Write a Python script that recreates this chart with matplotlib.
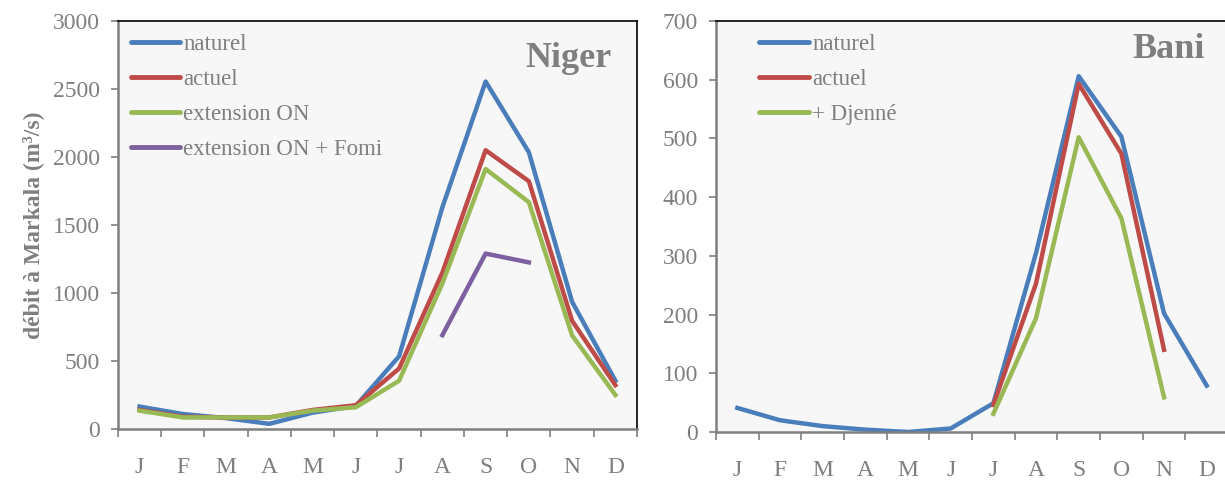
import numpy as np
import matplotlib.pyplot as plt

plt.rcParams['font.family'] = ['Liberation Serif', 'DejaVu Serif']

months = ['J', 'F', 'M', 'A', 'M', 'J', 'J', 'A', 'S', 'O', 'N', 'D']

# Niger a Markala
niger_naturel = [165, 110, 80, 38, 120, 170, 535, 1630, 2555, 2035, 935, 355]
niger_actuel = [140, 90, 85, 85, 140, 175, 445, 1150, 2050, 1822, 795, 322]
niger_ext_on = [135, 85, 85, 85, 135, 160, 355, 1070, 1912, 1668, 688, 250]
niger_fomi = [None] * 7 + [690, 1290, 1225] + [None] * 2

# Bani
bani_naturel = [41, 20, 10, 4, 0, 6, 49, 305, 606, 503, 202, 79]
bani_actuel = [None] * 6 + [46, 253, 593, 474, 140, None]
bani_djenne = [None] * 6 + [31, 194, 502, 364, 59, None]

blue = '#4A7EBB'
red = '#BE4B48'
green = '#98B954'
purple = '#7D60A0'
grey = '#7F7F7F'


def arr(v):
    return np.array([np.nan if x is None else x for x in v], dtype=float)


def style_ax(ax, ymax, ystep):
    ax.set_facecolor('#F7F7F7')
    ax.set_xlim(-0.5, 11.5)
    ax.set_ylim(0, ymax)
    ax.set_yticks(np.arange(0, ymax + 1, ystep))
    ax.set_xticks(np.arange(-0.5, 12, 1))
    ax.set_xticklabels([])
    ax.set_xticks(np.arange(12), minor=True)
    ax.set_xticklabels(months, minor=True)
    ax.tick_params(axis='x', which='major', length=6, width=1.2, color=grey, direction='out')
    ax.tick_params(axis='x', which='minor', length=0, pad=20, labelsize=17, labelcolor=grey)
    ax.tick_params(axis='y', length=5, width=1.2, color=grey, pad=8, labelsize=17, labelcolor=grey)
    for s in ['left', 'bottom']:
        ax.spines[s].set_color(grey)
        ax.spines[s].set_linewidth(1.8)
    for s in ['top', 'right']:
        ax.spines[s].set_color('black')
        ax.spines[s].set_linewidth(1.2)


def style_legend(leg):
    for t in leg.get_texts():
        t.set_color(grey)
    for h in leg.legend_handles:
        h.set_linewidth(3.5)
        h.set_solid_capstyle('round')


fig = plt.figure(figsize=(12.25, 4.83), dpi=100)
ax1 = fig.add_axes([0.0963, 0.1118, 0.4237, 0.8447])
ax2 = fig.add_axes([0.5845, 0.1056, 0.4180, 0.8509])

x = np.arange(12)
lw = 3.2
leg_kw = dict(loc='upper left', frameon=False, fontsize=16.5, handlelength=2.15,
              handletextpad=0.15, labelspacing=0.62, borderaxespad=0.15)

ax1.plot(x, niger_naturel, color=blue, lw=lw, label='naturel')
ax1.plot(x, niger_actuel, color=red, lw=lw, label='actuel')
ax1.plot(x, niger_ext_on, color=green, lw=lw, label='extension ON')
ax1.plot(x, arr(niger_fomi), color=purple, lw=lw, label='extension ON + Fomi')
style_ax(ax1, 3000, 500)
ax1.set_ylabel('débit à Markala (m³/s)', fontsize=17, fontweight='bold', color=grey, labelpad=6)
ax1.text(0.952, 0.887, 'Niger', transform=ax1.transAxes, ha='right', va='baseline',
         fontsize=26, fontweight='bold', color=grey)
style_legend(ax1.legend(bbox_to_anchor=(0.0, 1.0), **leg_kw))

ax2.plot(x, bani_naturel, color=blue, lw=lw, label='naturel')
ax2.plot(x, arr(bani_actuel), color=red, lw=lw, label='actuel')
ax2.plot(x, arr(bani_djenne), color=green, lw=lw, label='+ Djenné')
style_ax(ax2, 700, 100)
ax2.text(0.955, 0.910, 'Bani', transform=ax2.transAxes, ha='right', va='baseline',
         fontsize=26, fontweight='bold', color=grey)
style_legend(ax2.legend(bbox_to_anchor=(0.06, 1.0), **leg_kw))

fig.savefig('out.png', dpi=100)
